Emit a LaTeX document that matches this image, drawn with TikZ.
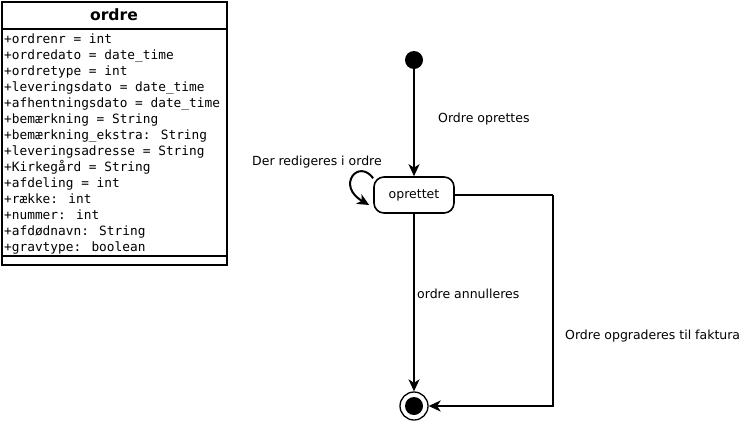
\documentclass[tikz,border=0pt]{standalone}
\usepackage{fontspec}
\setmainfont{DejaVu Sans}
\newfontfamily\monofont{DejaVu Sans Mono}
\usetikzlibrary{arrows.meta}
\tikzset{
  lbl/.style={anchor=base west, inner sep=0pt, font=\fontsize{12.5}{14}\selectfont},
  attr/.style={anchor=base west, inner sep=0pt, font=\monofont\fontsize{12.8}{16}\selectfont},
  conn/.style={line width=2pt, -{Stealth[length=12pt,width=11pt,inset=3.5pt]}},
  plain/.style={line width=2pt},
  state/.style={draw, line width=1.6pt, rounded corners=10pt, minimum width=80pt, minimum height=36pt, inner sep=0pt, font=\fontsize{12.5}{14}\selectfont},
}
\begin{document}
\begin{tikzpicture}[x=1pt,y=-1pt]
\useasboundingbox (0,0) rectangle (746,423);
% class box
\draw[line width=2pt] (1.5,1.5) rectangle (226.5,264.5);
\draw[line width=2pt] (1.5,28.5) -- (226.5,28.5);
\draw[line width=2pt] (1.5,256) -- (226.5,256);
\node[anchor=base, inner sep=0pt, font=\bfseries\fontsize{15.6}{18}\selectfont] (title) at (114,20) {ordre};
\foreach \t [count=\i] in {
  +ordrenr = int,
  +ordredato = date\_time,
  +ordretype = int,
  +leveringsdato = date\_time,
  +afhentningsdato = date\_time,
  +bemærkning = String,
  +bemærkning\_ekstra: String,
  +leveringsadresse = String,
  +Kirkegård = String,
  +afdeling = int,
  +række: int,
  +nummer: int,
  +afdødnavn: String,
  +gravtype: boolean}
  \node[attr] (a\i) at (4, {43+(\i-1)*16}) {\t};
% states
\node[circle, fill=black, minimum size=18pt, inner sep=0pt] (init) at (414,60) {};
\node[state] (op) at (414,195) {oprettet};
\node[circle, draw, line width=1.3pt, minimum size=28pt, inner sep=0pt] (fin) at (414,406) {};
\node[circle, fill=black, minimum size=18pt, inner sep=0pt] (fincore) at (fin) {};
% connectors
\draw[conn] (init) -- (op.north);
\draw[conn] (op.south) -- (fin.north);
\coordinate (rc) at (553,195);
\draw[plain] (op.east) -- (rc);
\draw[conn] (rc) |- (fin.east);
\draw[conn] ([yshift=-2pt]op.north west) .. controls (358,158) and (336,186) .. ([shift={(-4pt,-10pt)}]op.west);
% labels
\node[lbl] (l1) at (438,122) {Ordre oprettes};
\node[lbl] (l2) at (252,165) {Der redigeres i ordre};
\node[lbl] (l3) at (417,298) {ordre annulleres};
\node[lbl] (l4) at (565,339) {Ordre opgraderes til faktura};
\end{tikzpicture}
\end{document}
